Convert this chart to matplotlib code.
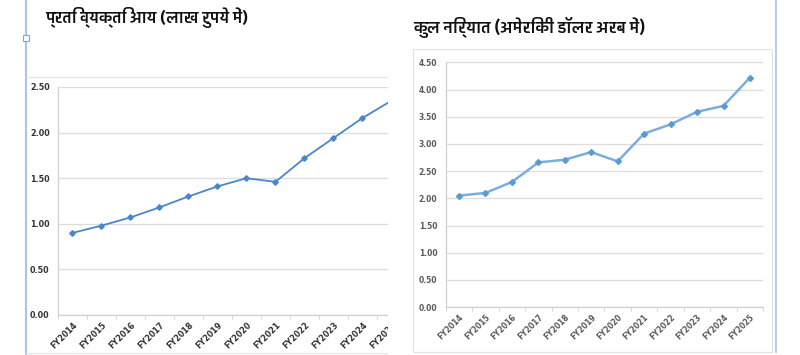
import matplotlib
matplotlib.use("Agg")
import matplotlib.pyplot as plt
from matplotlib import font_manager as fm
from matplotlib.ft2font import FT2Font
from matplotlib.patches import Rectangle
from matplotlib.lines import Line2D

years = ["FY2014", "FY2015", "FY2016", "FY2017", "FY2018", "FY2019",
         "FY2020", "FY2021", "FY2022", "FY2023", "FY2024", "FY2025"]
income = [0.90, 0.98, 1.07, 1.18, 1.30, 1.41, 1.50, 1.46, 1.72, 1.94, 2.16, 2.35]
exports = [2.05, 2.10, 2.30, 2.66, 2.71, 2.85, 2.68, 3.19, 3.36, 3.59, 3.70, 4.22]
income_ticks = [0.0, 0.5, 1.0, 1.5, 2.0, 2.5]
export_ticks = [0.0, 0.5, 1.0, 1.5, 2.0, 2.5, 3.0, 3.5, 4.0, 4.5]
title_left = "प्रति व्यक्ति आय (लाख रुपये में)"
title_right = "कुल निर्यात (अमेरिकी डॉलर अरब में)"


def find_font(ch):
    # installed family with a glyph for ch, bold face preferred
    found = []
    for f in fm.fontManager.ttflist:
        try:
            if FT2Font(f.fname).get_char_index(ord(ch)):
                found.append(f)
        except Exception:
            pass
    if not found:
        return "DejaVu Sans"
    found.sort(key=lambda f: -int(f.weight) if str(f.weight).isdigit() else 0)
    return found[0].name


hindi_font = find_font("क")

W, H = 800, 355
fig = plt.figure(figsize=(8, 3.55), dpi=100)


def fx(px):
    return px / W


def fy(py):
    return 1 - py / H


def fig_line(x0, x1, y0, y1, color, lw):
    fig.lines.append(Line2D([fx(x0), fx(x1)], [fy(y0), fy(y1)], color=color,
                            linewidth=lw, transform=fig.transFigure))


def style_axes(ax, ticks, color, size):
    ax.set_xlim(-0.5, 11.5)
    ax.set_ylim(ticks[0], ticks[-1])
    ax.set_yticks(ticks)
    ax.set_yticklabels(["%.2f" % t for t in ticks], fontsize=size,
                       fontweight="bold", color=color)
    ax.set_xticks(range(len(years)))
    ax.set_xticklabels(years, rotation=45, ha="right", rotation_mode="anchor",
                       fontsize=size, fontweight="bold", color=color)
    ax.set_xticks([i - 0.5 for i in range(len(years) + 1)], minor=True)
    ax.tick_params(axis="x", which="major", length=0, pad=4)
    ax.tick_params(axis="x", which="minor", length=3, color="#d0d0d0", direction="out")
    ax.tick_params(axis="y", length=0, pad=6)
    ax.grid(axis="y", color="#dcdcdc", linewidth=0.9)
    ax.set_axisbelow(True)
    for s in ["top", "right"]:
        ax.spines[s].set_visible(False)
    for s in ["left", "bottom"]:
        ax.spines[s].set_color("#d0d0d0")
        ax.spines[s].set_linewidth(0.9)


# left panel
ax1 = fig.add_axes([fx(58), fy(315), fx(348), (315 - 87) / H])
ax1.plot(range(len(years)), income, color="#4a86c8", linewidth=1.3,
         marker="D", markersize=2.8, clip_on=False)
style_axes(ax1, income_ticks, "#333333", 5.8)

# right panel
ax2 = fig.add_axes([fx(445.7), fy(307.2), fx(317.5), (307.2 - 62.3) / H])
ax2.plot(range(len(years)), exports, color="#7aaee0", linewidth=1.8,
         marker="D", markersize=3, markerfacecolor="#5b9bd5", markeredgecolor="#5b9bd5")
style_axes(ax2, export_ticks, "#5a5a5a", 5.5)

# crop of the left screenshot
fig.patches.append(Rectangle((fx(388), 0), fx(24), 1, transform=fig.transFigure,
                             facecolor="white", edgecolor="none", zorder=10))

# frames around the pasted charts
fig_line(26, 26, 0, 355, "#a9c4e8", 1.5)
fig.patches.append(Rectangle((fx(23), fy(41)), fx(6), 6 / H, transform=fig.transFigure,
                             facecolor="white", edgecolor="#7fa6dc", linewidth=0.8,
                             zorder=11))
fig_line(26, 388, 77, 77, "#e4e4e4", 0.8)
fig_line(26, 388, 353, 353, "#e4e4e4", 0.8)
fig.patches.append(Rectangle((fx(413), fy(352)), fx(359), (352 - 49) / H,
                             transform=fig.transFigure, facecolor="none",
                             edgecolor="#e2e2e2", linewidth=0.8, zorder=0))
fig_line(776, 776, 0, 352, "#a9c4e8", 1.2)

fig.text(fx(45), fy(17), title_left, family=[hindi_font, "DejaVu Sans"],
         fontsize=11.5, fontweight="bold", va="center", ha="left", color="#111111")
fig.text(fx(413), fy(28), title_right, family=[hindi_font, "DejaVu Sans"],
         fontsize=11.8, fontweight="bold", va="center", ha="left", color="#111111")

fig.savefig("out.png", dpi=100)
